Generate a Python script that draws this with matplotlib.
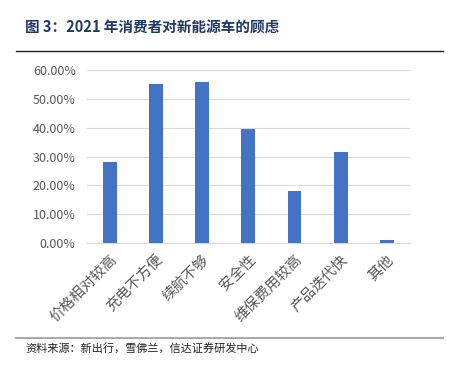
import matplotlib
matplotlib.use('Agg')
import matplotlib.pyplot as plt
from matplotlib.ticker import FuncFormatter
from matplotlib.lines import Line2D

plt.rcParams['font.family'] = ['Noto Sans CJK SC', 'DejaVu Sans']

categories = ['价格相对较高', '充电不方便', '续航不够', '安全性', '维保费用较高', '产品迭代快', '其他']
shares = [28.1, 55.0, 55.7, 39.5, 18.0, 31.6, 1.0]
y_ticks = [0, 10, 20, 30, 40, 50, 60]

fig = plt.figure(figsize=(4.57, 3.7), dpi=100)
ax = fig.add_axes([0.19, 0.343, 0.707, 0.468])

x = list(range(len(categories)))
ax.bar(x, shares, width=0.3, color='#4472C4', zorder=3)

ax.set_ylim(0, 60)
ax.set_xlim(-0.5, len(categories) - 0.5)
ax.set_yticks(y_ticks)
ax.yaxis.set_major_formatter(FuncFormatter(lambda v, p: f'{v:.2f}%'))
ax.grid(axis='y', color='#D9D9D9', linewidth=0.8, zorder=0)
ax.set_xticks(x)
ax.set_xticklabels(categories, rotation=45, ha='right', rotation_mode='anchor')
ax.tick_params(axis='x', length=0, labelsize=10.5, colors='#595959', pad=7)
ax.tick_params(axis='y', length=0, labelsize=9, colors='#595959', pad=8)
for side in ['top', 'right', 'left']:
    ax.spines[side].set_visible(False)
ax.spines['bottom'].set_color('#D9D9D9')

# title, rules and source
fig.text(0.055, 0.925, '图 3：2021 年消费者对新能源车的顾虑', fontsize=10.5,
         fontweight='bold', color='#1F3864', va='center')
fig.add_artist(Line2D([0.035, 0.97], [0.862, 0.862], color='#222222', linewidth=1.0))
fig.add_artist(Line2D([0.035, 0.97], [0.087, 0.087], color='#AAAAAA', linewidth=1.5))
fig.text(0.055, 0.058, '资料来源：新出行，雪佛兰，信达证券研发中心', fontsize=8,
         color='#222222', va='center', style='italic')

fig.savefig('out.png', dpi=100)
